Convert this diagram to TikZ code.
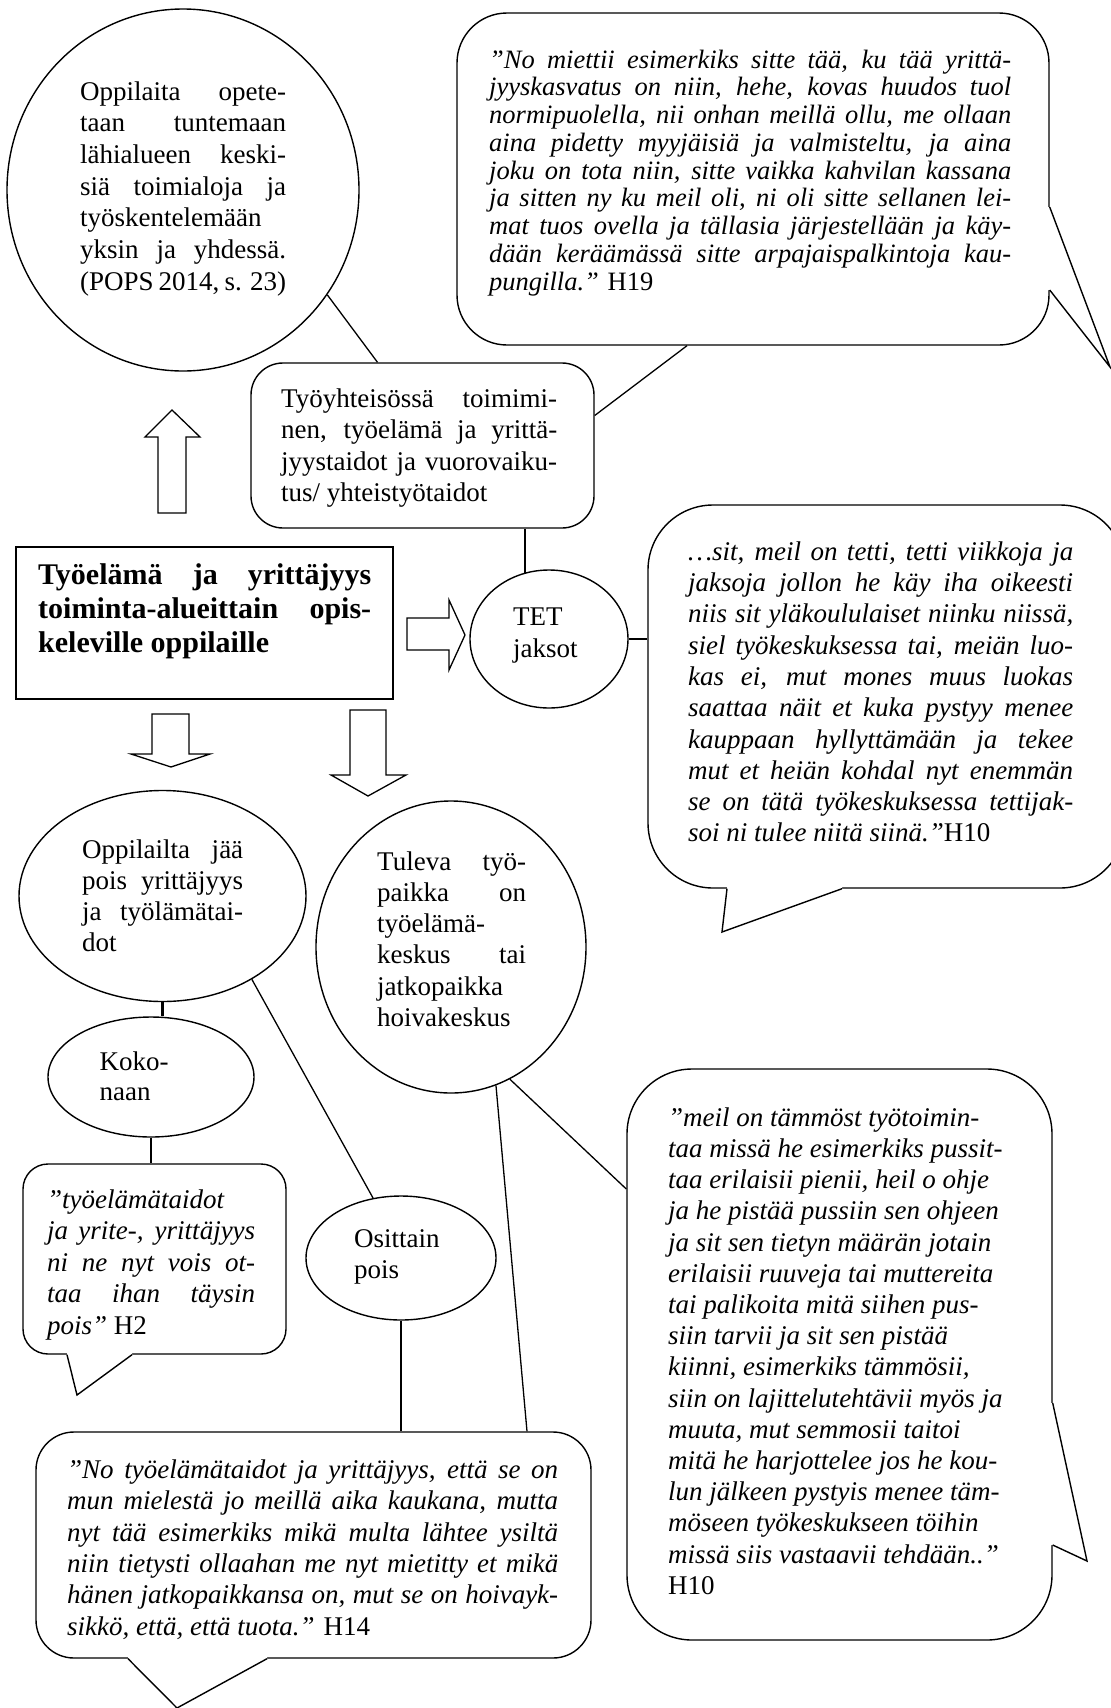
\documentclass[tikz,border=0pt]{standalone}
\usepackage{fontspec}
\setmainfont{Liberation Serif}
\usetikzlibrary{shapes.geometric, calc}
% one justified line of a given width (in pt)
\newcommand\jl[2]{\makebox[#1pt][s]{#2}}
\newcommand\fs[2]{\fontsize{#1}{#2}\selectfont}
\begin{document}
\begin{tikzpicture}[x=1pt, y=-1pt,
  shp/.style={draw, line width=1.4pt, inner sep=0pt},
  oval/.style={shp, ellipse},
  bubble/.style={shp, rectangle},
  txt/.style={anchor=north west, inner sep=0pt, align=left},
  link/.style={line width=1.3pt},
  boldlink/.style={line width=2.6pt},
  blockarrow/.style={line width=1.3pt, fill=white, line join=miter},
  tail/.style={line width=1.4pt, line join=miter}]
\path[use as bounding box] (0,0) rectangle (1111,1708);
\fill[white] (0,0) rectangle (1111,1708);
\clip (0,0) rectangle (1111,1708);

% ---- shapes ----
\node[oval, minimum width=352pt, minimum height=362pt] (A) at (183,190) {};
\node[bubble, rounded corners=50pt, minimum width=592pt, minimum height=332pt] (H19) at (753,179) {};
\node[bubble, rounded corners=32pt, minimum width=343pt, minimum height=165pt] (B) at (422.5,445.5) {};
\node[shp, rectangle, line width=1.6pt, minimum width=377pt, minimum height=152pt] (M) at (204.5,623) {};
\node[oval, minimum width=158pt, minimum height=138pt] (TET) at (549,639) {};
\node[bubble, rounded corners=65pt, minimum width=477pt, minimum height=383pt] (H10) at (886.5,696.5) {};
\node[oval, minimum width=287pt, minimum height=211pt] (O) at (162.5,896) {};
\node[oval, minimum width=270pt, minimum height=292pt] (T) at (451,947) {};
\node[oval, minimum width=206pt, minimum height=120pt] (K) at (151,1077) {};
\node[bubble, rounded corners=25pt, minimum width=263pt, minimum height=190pt] (H2) at (154.5,1259) {};
\node[oval, minimum width=190pt, minimum height=124pt] (S) at (401,1258) {};
\node[bubble, rounded corners=65pt, minimum width=425pt, minimum height=571pt] (H10b) at (839.5,1354.5) {};
\node[bubble, rounded corners=38pt, minimum width=555pt, minimum height=226pt] (H14) at (313.5,1545) {};

% ---- speech bubble tails ----
\coordinate (h19tip) at (1110,367);
\coordinate (h10tip) at (722,932);
\coordinate (h2tip) at (77,1395);
\coordinate (h10btip) at (1087,1561);
\coordinate (h14tip) at (177,1708);

\fill[white] ($(H19.east)+(-3,28)$) -- ($(H19.east)+(0,28)$) -- (h19tip) -- ($(H19.east)+(0,111)$) -- ($(H19.east)+(-3,111)$) -- cycle;
\draw[tail] ($(H19.east)+(0,28)$) -- (h19tip) -- ($(H19.east)+(0,111)$);

\fill[white] ($(H10.south)+(-159.5,-3)$) -- ($(H10.south)+(-159.5,0)$) -- (h10tip) -- ($(H10.south)+(-44.5,0)$) -- ($(H10.south)+(-44.5,-3)$) -- cycle;
\draw[tail] ($(H10.south)+(-159.5,0)$) -- (h10tip) -- ($(H10.south)+(-44.5,0)$);

\fill[white] ($(H2.south)+(-87.5,-3)$) -- ($(H2.south)+(-87.5,0)$) -- (h2tip) -- ($(H2.south)+(-22.5,0)$) -- ($(H2.south)+(-22.5,-3)$) -- cycle;
\draw[tail] ($(H2.south)+(-87.5,0)$) -- (h2tip) -- ($(H2.south)+(-22.5,0)$);

\fill[white] ($(H10b.east)+(-3,48.5)$) -- ($(H10b.east)+(0,48.5)$) -- (h10btip) -- ($(H10b.east)+(0,190.5)$) -- ($(H10b.east)+(-3,190.5)$) -- cycle;
\draw[tail] ($(H10b.east)+(0,48.5)$) -- (h10btip) -- ($(H10b.east)+(0,190.5)$);

\fill[white] ($(H14.south)+(-185.5,-3)$) -- ($(H14.south)+(-185.5,0)$) -- (h14tip) -- ($(H14.south)+(-46.5,0)$) -- ($(H14.south)+(-46.5,-3)$) -- cycle;
\draw[tail] ($(H14.south)+(-185.5,0)$) -- (h14tip) -- ($(H14.south)+(-46.5,0)$);

% ---- connectors ----
\draw[link] (A.-36) -- ($(B.north)+(-45,0)$);
\draw[link] ($(H19.south)+(-66,0)$) -- ($(B.east)+(0,-30)$);
\draw[boldlink] (TET.110) -- (TET.110 |- B.south);
\draw[boldlink] (TET.east) -- (TET.east -| H10.west);
\draw[boldlink] (O.south) -- (O.south |- K.north);
\draw[boldlink] (K.south) -- (K.south |- H2.north);
\draw[link] (O.-43) -- (S.115);
\draw[link] (T.-72) -- ($(H14.north)+(213.5,0)$);
\draw[link] (T.-66) -- ($(H10b.west)+(0,-165.5)$);
\draw[link] (S.south) -- (S.south |- H14.north);

% ---- block arrows ----
\draw[blockarrow] (158,513) -- (158,437) -- (145,437) -- (172,410) -- (200,437) -- (186,437) -- (186,513) -- cycle;
\draw[blockarrow] (407,618) -- (449,618) -- (449,600) -- (465,635) -- (449,670) -- (449,650) -- (407,650) -- cycle;
\draw[blockarrow] (152,714) -- (189,714) -- (189,754) -- (210,754) -- (171,767) -- (131,754) -- (152,754) -- cycle;
\draw[blockarrow] (350,710) -- (386,710) -- (386,775) -- (406,775) -- (368,796) -- (331,775) -- (350,775) -- cycle;

% ---- texts ----
\node[txt, font=\fs{27}{31.7}] (At) at (80,77.8) {\strut\jl{206}{Oppilaita opete-}\\
\jl{206}{taan tuntemaan}\\
\jl{206}{lähialueen keski-}\\
\jl{206}{siä toimialoja ja}\\
työskentelemään\\
\jl{206}{yksin ja yhdessä.}\\
\jl{206}{(POPS 2014, s. 23)}};

\node[txt, font=\fs{26.5}{27.75}\itshape] (H19t) at (489,48.6) {\strut\jl{522}{”No miettii esimerkiks sitte tää, ku tää yrittä-}\\
\jl{522}{jyyskasvatus on niin, hehe, kovas huudos tuol}\\
\jl{522}{normipuolella, nii onhan meillä ollu, me ollaan}\\
\jl{522}{aina pidetty myyjäisiä ja valmisteltu, ja aina}\\
\jl{522}{joku on tota niin, sitte vaikka kahvilan kassana}\\
\jl{522}{ja sitten ny ku meil oli, ni oli sitte sellanen lei-}\\
\jl{522}{mat tuos ovella ja tällasia järjestellään ja käy-}\\
\jl{522}{dään keräämässä sitte arpajaispalkintoja kau-}\\
pungilla.” {\upshape H19}};

\node[txt, font=\fs{27}{31.5}] (Bt) at (281,385) {\strut\jl{276}{Työyhteisössä toimimi-}\\
\jl{276}{nen, työelämä ja yrittä-}\\
\jl{276}{jyystaidot ja vuorovaiku-}\\
tus/ yhteistyötaidot};

\node[txt, font=\fs{30}{34}\bfseries] (Mt) at (38,560.2) {\strut\jl{333}{Työelämä ja yrittäjyys}\\
\jl{333}{toiminta-alueittain opis-}\\
keleville oppilaille};

\node[txt, font=\fs{27}{32}] (TETt) at (513,602.6) {\strut TET\\ jaksot};

\node[txt, font=\fs{27}{31.3}\itshape] (H10t) at (688,538.1) {\strut\jl{385}{…sit, meil on tetti, tetti viikkoja ja}\\
\jl{385}{jaksoja jollon he käy iha oikeesti}\\
\jl{385}{niis sit yläkoululaiset niinku niissä,}\\
\jl{385}{siel työkeskuksessa tai, meiän luo-}\\
\jl{385}{kas ei, mut mones muus luokas}\\
\jl{385}{saattaa näit et kuka pystyy menee}\\
\jl{385}{kauppaan hyllyttämään ja tekee}\\
\jl{385}{mut et heiän kohdal nyt enemmän}\\
\jl{385}{se on tätä työkeskuksessa tettijak-}\\
soi ni tulee niitä siinä.”{\upshape H10}};

\node[txt, font=\fs{27}{31}] (Ot) at (82,836.3) {\strut\jl{161}{Oppilailta jää}\\
\jl{161}{pois yrittäjyys}\\
\jl{161}{ja työlämätai-}\\
dot};

\node[txt, font=\fs{27}{31.2}] (Tt) at (377,848.2) {\strut\jl{149}{Tuleva työ-}\\
\jl{149}{paikka on}\\
työelämä-\\
\jl{149}{keskus tai}\\
jatkopaikka\\
hoivakeskus};

\node[txt, font=\fs{27}{30}] (Kt) at (99.5,1049) {\strut Koko-\\ naan};

\node[txt, font=\fs{27}{31}] (St) at (354,1225.3) {\strut Osittain\\ pois};

\node[txt, font=\fs{27}{31.5}\itshape] (H2t) at (47,1186) {\strut ”työelämätaidot\\
\jl{208}{ja yrite-, yrittäjyys}\\
\jl{208}{ni ne nyt vois ot-}\\
\jl{208}{taa ihan täysin}\\
pois” {\upshape H2}};

\node[txt, font=\fs{27}{31.2}\itshape] (H10bt) at (668,1104.2) {\strut ”meil on tämmöst työtoimin-\\
taa missä he esimerkiks pussit-\\
taa erilaisii pienii, heil o ohje\\
ja he pistää pussiin sen ohjeen\\
ja sit sen tietyn määrän jotain\\
erilaisii ruuveja tai muttereita\\
tai palikoita mitä siihen pus-\\
siin tarvii ja sit sen pistää\\
kiinni, esimerkiks tämmösii,\\
siin on lajittelutehtävii myös ja\\
muuta, mut semmosii taitoi\\
mitä he harjottelee jos he kou-\\
lun jälkeen pystyis menee täm-\\
möseen työkeskukseen töihin\\
missä siis vastaavii tehdään..”\\
{\upshape H10}};

\node[txt, font=\fs{27}{31.4}\itshape] (H14t) at (67,1456) {\strut\jl{491}{”No työelämätaidot ja yrittäjyys, että se on}\\
\jl{491}{mun mielestä jo meillä aika kaukana, mutta}\\
\jl{491}{nyt tää esimerkiks mikä multa lähtee ysiltä}\\
\jl{491}{niin tietysti ollaahan me nyt mietitty et mikä}\\
\jl{491}{hänen jatkopaikkansa on, mut se on hoivayk-}\\
sikkö, että, että tuota.” {\upshape H14}};
\end{tikzpicture}
\end{document}
